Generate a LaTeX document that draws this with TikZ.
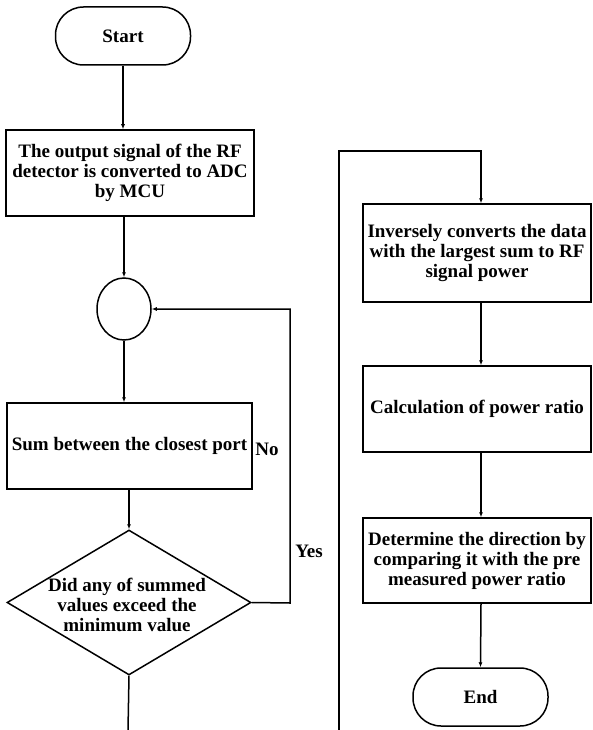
\documentclass[tikz,border=0pt]{standalone}
\usepackage{fontspec}
\setmainfont{Liberation Serif}
\usetikzlibrary{shapes.geometric,arrows.meta}
\begin{document}
\begin{tikzpicture}[x=1pt,y=-1pt,
  every node/.style={font=\bfseries\fontsize{19}{20}\selectfont},
  line/.style={draw, line width=1.5pt},
  arr/.style={line, -{Latex[length=5pt,width=4pt]}},
  term/.style={draw, line width=1.5pt, rounded corners=28pt, minimum width=135pt, minimum height=58pt, inner sep=0pt},
  box/.style={draw, line width=1.5pt, align=center, inner sep=0pt},
  lbl/.style={font=\bfseries\fontsize{19}{20}\selectfont, inner sep=0pt}
]
\useasboundingbox (0,0) rectangle (593,730);
% left column
\node[term] (start) at (123,36) {Start};
\node[box, minimum width=248pt, minimum height=86pt] (b1) at (130,173) {The output signal of the RF\\detector is converted to ADC\\by MCU};
\node[draw, line width=1.5pt, ellipse, minimum width=54pt, minimum height=62pt, inner sep=0pt] (c) at (124,309) {};
\node[box, minimum width=245pt, minimum height=86pt] (b2) at (129.5,446) {Sum between the closest port};
\node[draw, line width=1.5pt, diamond, minimum width=244pt, minimum height=145pt, inner sep=0pt] (d) at (129,602.5) {};
\node[align=center, inner sep=0pt] (dt) at (127,605) {Did any of summed\\values exceed the\\minimum value};
\node[lbl] (no) at (267,449) {No};
\node[lbl] (yes) at (309,551) {Yes};
% right column
\node[box, minimum width=228pt, minimum height=98pt] (b3) at (477,253) {Inversely converts the data\\with the largest sum to RF\\signal power};
\node[box, minimum width=228pt, minimum height=86pt] (b4) at (477,409) {Calculation of power ratio};
\node[box, minimum width=228pt, minimum height=85pt] (b5) at (477,560.5) {Determine the direction by\\comparing it with the pre\\measured power ratio};
\node[term] (end) at (480.5,697) {End};
% coordinates
\coordinate (lb) at (128,730);
\coordinate (loopA) at (290,603);
\coordinate (loopB) at (290,309);
\coordinate (rb) at (339,730);
\coordinate (rt) at (339,151);
\coordinate (rt2) at (481,151);
% connectors
\draw[arr] (start.south) -- (start.south |- b1.north);
\draw[arr] (b1.south -| c.north) -- (c.north);
\draw[arr] (c.south) -- (c.south |- b2.north);
\draw[arr] (b2.south -| d.north) -- (d.north);
\draw[line] (d.south) -- (lb);
\draw[arr] (d.east) -- (loopA) -- (loopB) -- (c.east);
\draw[arr] (rb) -- (rt) -- (rt2) -- (rt2 |- b3.north);
\draw[arr] (rt2 |- b3.south) -- (rt2 |- b4.north);
\draw[arr] (rt2 |- b4.south) -- (rt2 |- b5.north);
\draw[arr] (rt2 |- b5.south) -- (end.north);
\end{tikzpicture}
\end{document}
